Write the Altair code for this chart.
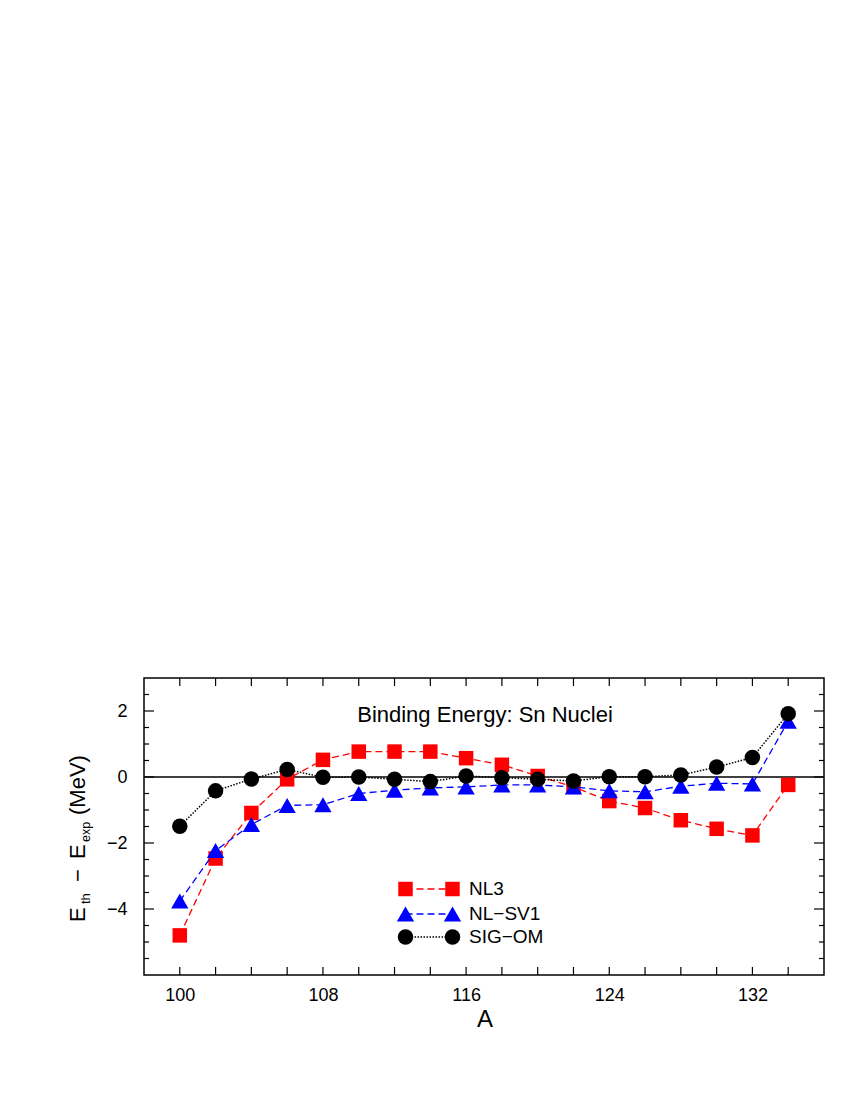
import altair as alt
import pandas as pd

# ---- data ----
A = [100, 102, 104, 106, 108, 110, 112, 114, 116, 118, 120, 122, 124, 126, 128, 130, 132, 134]
nl3 = [-4.80, -2.47, -1.09, -0.07, 0.52, 0.77, 0.77, 0.77, 0.57, 0.37, 0.03, -0.30,
       -0.73, -0.94, -1.31, -1.57, -1.77, -0.24]
nlsv1 = [-3.76, -2.23, -1.44, -0.86, -0.84, -0.50, -0.40, -0.33, -0.30, -0.24, -0.24, -0.30,
         -0.42, -0.45, -0.28, -0.19, -0.21, 1.69]
sigom = [-1.49, -0.42, -0.06, 0.23, -0.01, 0.00, -0.07, -0.14, 0.03, -0.02, -0.07, -0.12,
         0.01, 0.01, 0.06, 0.30, 0.59, 1.92]

series_names = ["NL3", "NL\u2212SV1", "SIG\u2212OM"]
x_label_values = [100, 108, 116, 124, 132]
y_label_values = [-4, -2, 0, 2]
x_tick_values = list(range(100, 135, 2))
y_minor_values = [v / 2 for v in range(-11, 6) if (v / 2) not in (-4, -2, 0, 2)]

W, H = 680, 297
FONT = "Liberation Sans"

xenc = alt.X("A:Q",
             scale=alt.Scale(domain=[98, 136], nice=False, zero=False),
             axis=alt.Axis(values=x_label_values, ticks=False, tickSize=0, domain=False,
                           grid=False, labelFontSize=18, labelPadding=25,
                           labelBaseline="alphabetic", labelColor="black", title=""))
yenc = alt.Y("dE:Q",
             scale=alt.Scale(domain=[-6, 3], nice=False, zero=False),
             axis=alt.Axis(values=y_label_values, ticks=False, tickSize=0, domain=False,
                           grid=False, labelFontSize=18, labelPadding=17,
                           labelColor="black", title=""))

def series(values, color, shape, size, dash, width):
    d = pd.DataFrame({"A": A, "dE": values})
    base = alt.Chart(d)
    line = base.mark_line(color=color, strokeDash=dash, strokeWidth=width).encode(x=xenc, y=yenc)
    pts = base.mark_point(shape=shape, size=size, filled=True, color=color, opacity=1).encode(x=xenc, y=yenc)
    return line + pts

red = series(nl3, "#ff0000", "square", 210, [7, 4], 1.3)
blue = series(nlsv1, "#0000ff", "triangle-up", 300, [7, 4], 1.3)
black = series(sigom, "#000000", "circle", 240, [1.5, 1.5], 1.5)

# zero line
zero = alt.Chart(pd.DataFrame({"dE": [0]})).mark_rule(color="black", strokeWidth=1.4).encode(
    y=yenc, x=alt.value(0), x2=alt.value(W))

# inward ticks
xt = pd.DataFrame({"A": x_tick_values})
xt_bottom = alt.Chart(xt).mark_rule(color="black", strokeWidth=1.2).encode(
    x=xenc, y=alt.value(H), y2=alt.value(H - 8))
xt_top = alt.Chart(xt).mark_rule(color="black", strokeWidth=1.2).encode(
    x=xenc, y=alt.value(0), y2=alt.value(8))
ymaj = pd.DataFrame({"dE": y_label_values})
ymin = pd.DataFrame({"dE": y_minor_values})
yt = []
for dfv, ln in ((ymaj, 10), (ymin, 5)):
    yt.append(alt.Chart(dfv).mark_rule(color="black", strokeWidth=1.2).encode(
        y=yenc, x=alt.value(0), x2=alt.value(ln)))
    yt.append(alt.Chart(dfv).mark_rule(color="black", strokeWidth=1.2).encode(
        y=yenc, x=alt.value(W), x2=alt.value(W - ln)))

one = pd.DataFrame({"k": [0]})

def txt(text, x, y, size, angle=0, align="left", baseline="alphabetic"):
    kw = dict(text=text, fontSize=size, font=FONT, color="black", align=align, baseline=baseline)
    if angle:
        kw["angle"] = angle
    return alt.Chart(one).mark_text(**kw).encode(x=alt.value(x), y=alt.value(y))

# in-plot title
title = txt("Binding Energy: Sn Nuclei", 341, 44, 22, align="center")

# x axis title
xtitle = txt("A", 341, 349, 24, align="center")

# y axis title with subscripts (rotated)
ytitle = [
    txt("E", -59, 244, 22, angle=270),
    txt("th", -54, 226, 13, angle=270),
    txt("\u2212", -59, 204, 22, angle=270),
    txt("E", -59, 181, 22, angle=270),
    txt("exp", -54, 164, 12.5, angle=270),
    txt("(MeV)", -59, 137, 22, angle=270),
]

# legend
leg_rows = [211, 236, 259]
leg_styles = [("#ff0000", "square", 210, [7, 4], 1.3),
              ("#0000ff", "triangle-up", 300, [7, 4], 1.3),
              ("#000000", "circle", 240, [1.5, 1.5], 1.5)]
legend = []
for name, yy, (col, shp, sz, dash, wdt) in zip(series_names, leg_rows, leg_styles):
    legend.append(alt.Chart(one).mark_rule(color=col, strokeDash=dash, strokeWidth=wdt).encode(
        x=alt.value(261.5), x2=alt.value(308.5), y=alt.value(yy)))
    for xx in (261.5, 308.5):
        legend.append(alt.Chart(one).mark_point(shape=shp, size=sz, filled=True, color=col, opacity=1).encode(
            x=alt.value(xx), y=alt.value(yy)))
    legend.append(txt(name, 325, yy, 19, baseline="middle"))

chart = alt.layer(
    zero, *yt, xt_bottom, xt_top, red, blue, black, title, xtitle, *ytitle, *legend
).properties(
    width=W, height=H,
    autosize=alt.AutoSizeParams(type="none"),
    padding={"left": 136, "top": 670, "right": 18, "bottom": 100},
).configure(
    font=FONT
).configure_view(
    stroke="black", strokeWidth=1.5
)

chart.save("out.html", embed_options={"renderer": "svg", "actions": False})
